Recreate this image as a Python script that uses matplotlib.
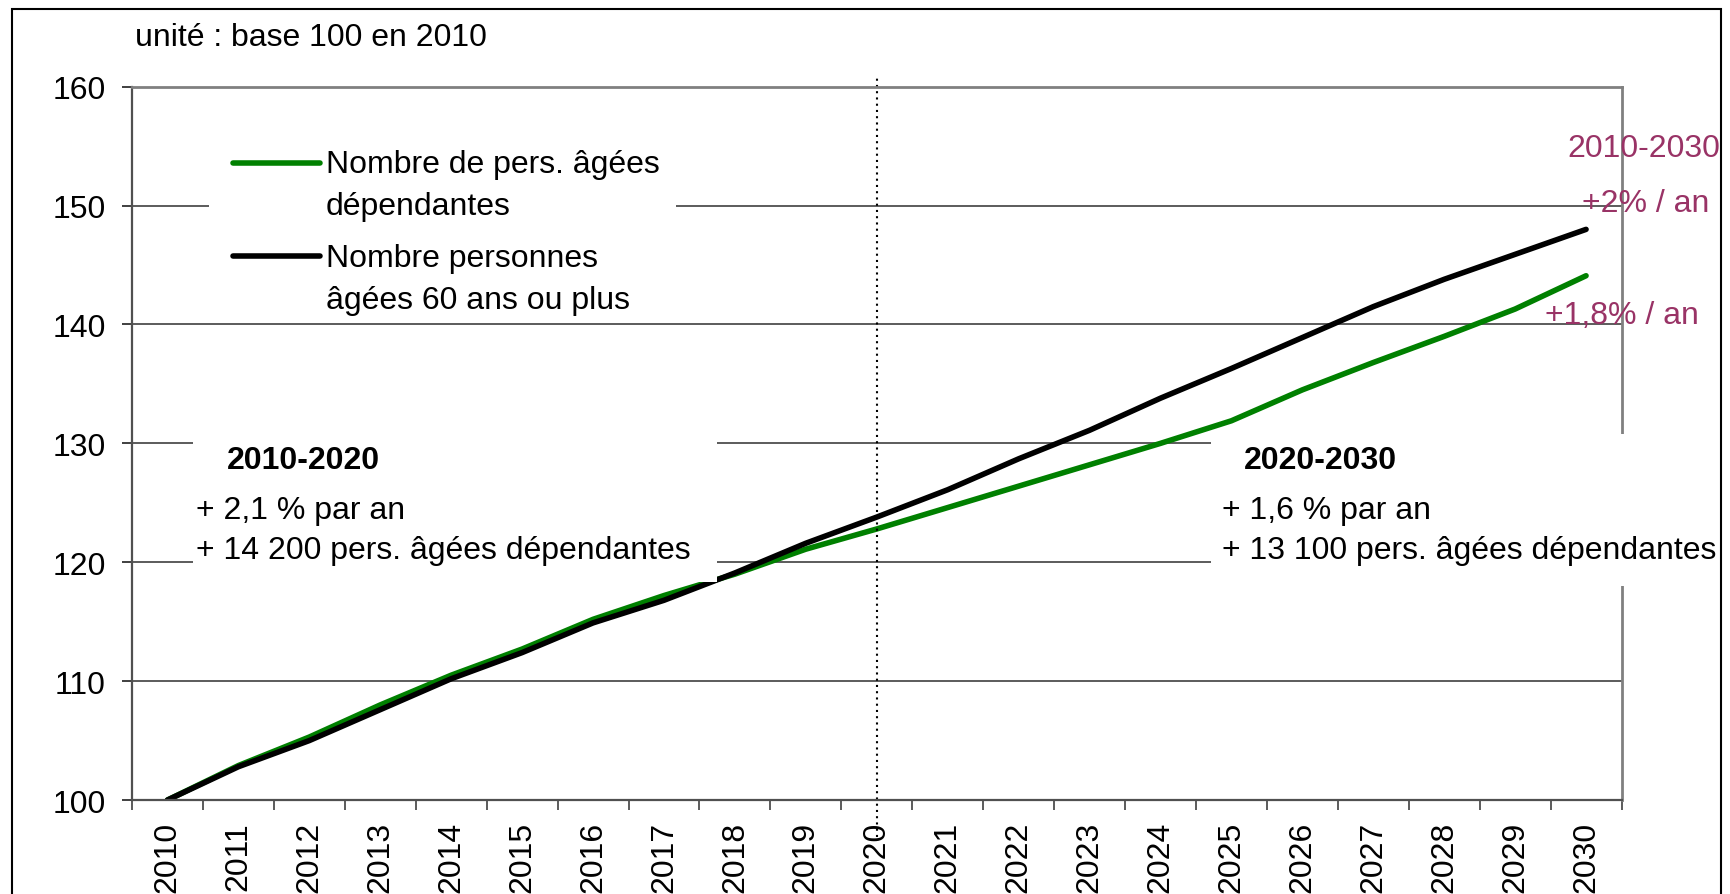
import numpy as np
import matplotlib
matplotlib.use('Agg')
import matplotlib.pyplot as plt
from matplotlib.patches import Rectangle
from matplotlib.legend_handler import HandlerLine2D

plt.rcParams['font.family'] = ['Liberation Sans', 'DejaVu Sans']

# Data (base 100 en 2010)
years = [str(y) for y in range(2010, 2031)]
dependants = [100, 102.9, 105.3, 108.0, 110.5, 112.7, 115.2, 117.2, 119.0, 121.1, 122.8,
              124.6, 126.4, 128.2, 130.0, 131.9, 134.5, 136.8, 139.0, 141.3, 144.1]
over_60 = [100, 102.8, 105.0, 107.6, 110.2, 112.4, 114.9, 116.8, 119.1, 121.6, 123.8,
           126.1, 128.7, 131.1, 133.8, 136.3, 138.9, 141.5, 143.8, 145.9, 148.0]
series_labels = ['Nombre de pers. âgées\ndépendantes', 'Nombre personnes\nâgées 60 ans ou plus']
y_ticks = [100, 110, 120, 130, 140, 150, 160]
split_year = '2020'

FS = 23
PURPLE = '#993366'
GREEN = '#008000'


class TopLine(HandlerLine2D):
    # put the legend key on the first line of a two-line label
    def create_artists(self, legend, orig_handle, xdescent, ydescent, width, height, fontsize, trans):
        arts = super().create_artists(legend, orig_handle, xdescent, ydescent, width, height, fontsize, trans)
        for a in arts:
            a.set_ydata(np.asarray(a.get_ydata()) + 0.72 * fontsize)
        return arts


fig = plt.figure(figsize=(17.3, 8.95), dpi=100)
ax = fig.add_axes([0.0763, 0.105, 0.861, 0.797])

x = np.arange(len(years))
l1, = ax.plot(x, dependants, color=GREEN, lw=4, solid_capstyle='round', zorder=2)
l2, = ax.plot(x, over_60, color='black', lw=4, solid_capstyle='round', zorder=2.1)

# dotted separator at 2020
xs = years.index(split_year)
ax.plot([xs, xs], [96.9, 160.8], color='black', ls=(0, (1, 2)), lw=1.5, clip_on=False, zorder=2.2)

ax.set_xlim(-0.5, len(years) - 0.5)
ax.set_ylim(100, 160)
ax.set_yticks(y_ticks)
ax.set_yticklabels([str(v) for v in y_ticks], fontsize=FS)
ax.set_xticks(x)
ax.set_xticklabels(years, rotation=90, fontsize=FS)
ax.set_xticks(np.arange(-0.5, len(years)), minor=True)
ax.tick_params(axis='x', which='major', length=0, pad=15)
ax.tick_params(axis='x', which='minor', length=7, width=1.2, color='#404040')
ax.tick_params(axis='y', length=7, width=1.2, color='#202020', pad=12)

ax.yaxis.grid(True, color='#404040', lw=1.2)
ax.set_axisbelow(True)
for s in ['left', 'bottom']:
    ax.spines[s].set_color('#505050')
    ax.spines[s].set_linewidth(1.6)
for s in ['top', 'right']:
    ax.spines[s].set_color('#808080')
    ax.spines[s].set_linewidth(2)

# white boxes behind the texts
for bx, by, bw, bh in [(0.052, 0.675, 0.313, 0.29), (0.0407, 0.305, 0.352, 0.207),
                       (0.7244, 0.300, 0.346, 0.213)]:
    ax.add_patch(Rectangle((bx, by), bw, bh, transform=ax.transAxes, facecolor='white',
                           edgecolor='none', clip_on=False, zorder=3))

leg = ax.legend([l1, l2], series_labels, loc='upper left', bbox_to_anchor=(0.068, 0.912),
                frameon=False, fontsize=FS, handlelength=2.7, handletextpad=0.2,
                labelspacing=0.7, borderpad=0, borderaxespad=0,
                handler_map={l1: TopLine(), l2: TopLine()})
leg.set_zorder(4)
for t in leg.get_texts():
    t.set_linespacing(1.5)

# period annotations
ax.text(0.1148, 0.4765, '2010-2020', transform=ax.transAxes, fontsize=FS, fontweight='bold',
        ha='center', va='center', zorder=4)
ax.text(0.0430, 0.407, '+ 2,1 % par an', transform=ax.transAxes, fontsize=FS,
        ha='left', va='center', zorder=4)
ax.text(0.0430, 0.350, '+ 14 200 pers. âgées dépendantes', transform=ax.transAxes, fontsize=FS,
        ha='left', va='center', zorder=4)
ax.text(0.798, 0.4765, '2020-2030', transform=ax.transAxes, fontsize=FS, fontweight='bold',
        ha='center', va='center', zorder=4)
ax.text(0.732, 0.407, '+ 1,6 % par an', transform=ax.transAxes, fontsize=FS,
        ha='left', va='center', zorder=4)
ax.text(0.732, 0.350, '+ 13 100 pers. âgées dépendantes', transform=ax.transAxes, fontsize=FS,
        ha='left', va='center', zorder=4, clip_on=False)

ax.text(1.0148, 0.9145, '2010-2030', transform=ax.transAxes, fontsize=FS, color=PURPLE,
        ha='center', va='center', zorder=4)
ax.text(1.0163, 0.8376, '+2% / an', transform=ax.transAxes, fontsize=FS, color=PURPLE,
        ha='center', va='center', zorder=4)
ax.text(1.000, 0.680, '+1,8% / an', transform=ax.transAxes, fontsize=FS, color=PURPLE,
        ha='center', va='center', zorder=4)

fig.text(0.078, 0.957, 'unité : base 100 en 2010', fontsize=FS, ha='left', va='center')

# outer chart border
fig.add_artist(Rectangle((12 / 1730, -0.1), (1721 - 12) / 1730, 1.1 - 10 / 895,
                         transform=fig.transFigure, facecolor='none', edgecolor='black', lw=1.5))

fig.savefig('out.png', dpi=100)
